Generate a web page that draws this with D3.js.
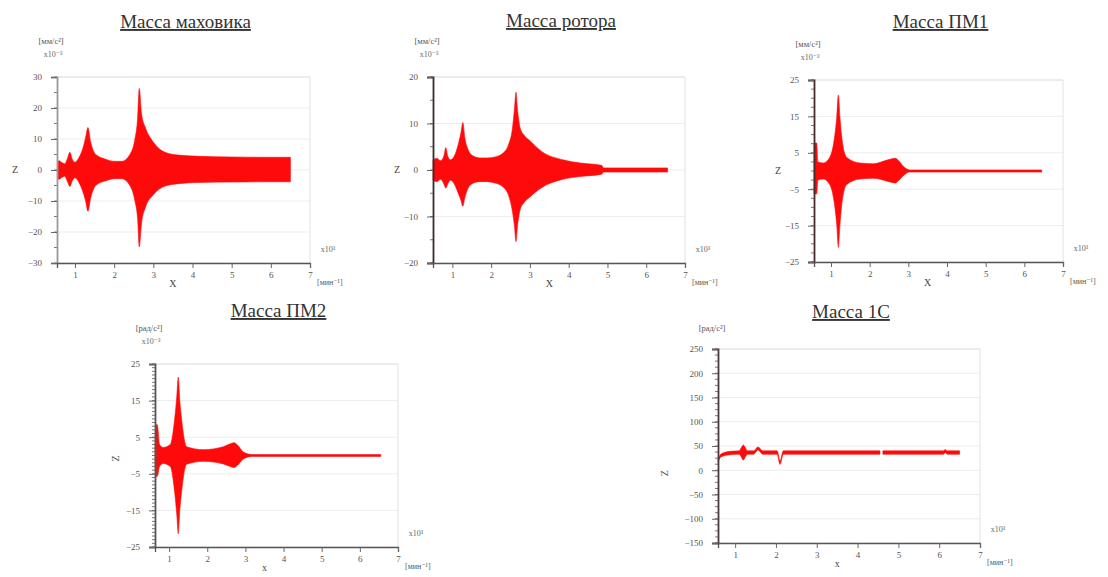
<!DOCTYPE html>
<html>
<head>
<meta charset="utf-8">
<script src="https://cdn.jsdelivr.net/npm/d3@7"></script>
<style>
  body { margin: 0; background: #fff; }
  svg { display: block; }
  text { font-family: "Liberation Serif", "DejaVu Serif", serif; }
</style>
</head>
<body>
<svg id="chart" width="1108" height="577"></svg>
<script>
// envelope of the response (x in 10^3 min^-1)
const flywheelX = [0.55, 0.6, 0.66, 0.74, 0.8, 0.87, 0.93, 1.0, 1.1, 1.2, 1.27, 1.33, 1.4, 1.53, 1.78, 2.0, 2.2, 2.4, 2.53, 2.6, 2.64, 2.7, 2.8, 3.0, 3.3, 3.65, 4.2, 5.0, 5.8, 6.5];
const flywheelUp = [2.8, 3.0, 2.4, 2.0, 3.5, 5.7, 3.5, 2.5, 4.0, 7.0, 10.5, 13.7, 9.0, 5.0, 3.5, 2.8, 2.8, 5.0, 10.0, 17.0, 26.3, 18.0, 13.6, 9.0, 5.7, 4.8, 4.4, 4.2, 4.1, 4.1];
const flywheelLo = [-2.8, -3.0, -2.4, -2.0, -3.5, -5.3, -3.5, -2.5, -4.0, -7.0, -10.0, -13.3, -9.0, -5.0, -3.5, -2.8, -2.8, -5.0, -10.0, -16.0, -24.8, -17.0, -12.0, -8.0, -5.2, -4.4, -4.0, -3.9, -3.8, -3.8];

const rotorX = [0.5, 0.6, 0.7, 0.78, 0.83, 0.88, 0.95, 1.05, 1.15, 1.22, 1.27, 1.32, 1.4, 1.5, 1.7, 1.9, 2.1, 2.3, 2.45, 2.55, 2.6, 2.64, 2.68, 2.75, 2.85, 3.0, 3.3, 3.85, 4.3, 4.85, 4.9, 6.55];
const rotorUp = [2.2, 2.5, 2.0, 3.0, 4.8, 3.0, 2.2, 3.0, 5.5, 8.0, 10.2, 7.0, 4.5, 3.2, 2.6, 2.6, 2.8, 3.6, 5.5, 9.0, 13.0, 16.7, 13.0, 9.0, 7.5, 6.3, 4.0, 2.2, 1.5, 1.0, 0.45, 0.45];
const rotorLo = [-2.2, -2.5, -2.0, -3.0, -3.9, -3.0, -2.2, -3.0, -5.0, -6.5, -7.8, -6.0, -4.0, -3.0, -2.5, -2.5, -2.8, -3.6, -5.5, -9.0, -12.0, -15.4, -12.0, -8.5, -7.0, -5.8, -3.8, -2.0, -1.4, -0.9, -0.45, -0.45];

const pm1X = [0.56, 0.63, 0.66, 0.8, 0.97, 1.1, 1.15, 1.19, 1.23, 1.27, 1.4, 1.75, 2.1, 2.45, 2.6, 2.67, 2.75, 2.9, 3.03, 6.45];
const pm1Up = [7.7, 7.7, 2.5, 2.2, 3.8, 10.0, 15.0, 20.9, 15.0, 10.0, 3.8, 2.2, 2.0, 3.0, 3.4, 3.5, 2.8, 1.0, 0.3, 0.3];
const pm1Lo = [-6.3, -6.3, -2.5, -2.2, -3.8, -10.0, -15.0, -21.0, -15.0, -10.0, -3.8, -2.2, -2.0, -2.8, -3.2, -3.3, -2.6, -1.0, -0.3, -0.3];

const pm2X = [0.63, 0.65, 0.69, 0.75, 0.84, 1.03, 1.15, 1.2, 1.24, 1.28, 1.33, 1.46, 1.9, 2.42, 2.6, 2.7, 2.8, 2.94, 3.17, 6.55];
const pm2Up = [2.0, 8.4, 8.4, 3.0, 2.2, 3.0, 10.5, 16.0, 21.4, 15.0, 9.7, 2.4, 1.6, 2.4, 3.2, 3.5, 2.8, 1.0, 0.25, 0.25];
const pm2Lo = [-2.0, -5.7, -5.7, -3.0, -2.2, -3.0, -10.5, -16.0, -21.4, -15.0, -9.7, -2.4, -1.6, -2.3, -3.0, -3.3, -2.6, -1.0, -0.25, -0.25];

// 1C: null = break in the trace
const oneCX = [0.58, 0.66, 0.88, 1.1, 1.16, 1.2, 1.24, 1.3, 1.45, 1.56, 1.68, 2.03, 2.1, 2.18, 4.55, 4.58, 4.62, 6.1, 6.15, 6.2, 6.5];
const oneCUp = [23, 34, 39, 40, 48, 52, 48, 40, 40, 48, 40, 40, 19, 40, 40, null, 40, 40, 43, 40, 40];
const oneCLo = [17, 28, 32, 33, 26, 21, 26, 33, 33, 42, 33, 33, 12, 33, 33, null, 33, 33, 36, 33, 33];

const titles = ["Масса маховика", "Масса ротора", "Масса ПМ1", "Масса ПМ2", "Масса 1С"];
const yUnits = ["[мм/с²]", "[мм/с²]", "[мм/с²]", "[рад/с²]", "[рад/с²]"];
const xTicks = [1, 2, 3, 4, 5, 6, 7];
const yTicks = [
  [-30, -20, -10, 0, 10, 20, 30],
  [-20, -10, 0, 10, 20],
  [-25, -15, -5, 5, 15, 25],
  [-25, -15, -5, 5, 15, 25],
  [-150, -100, -50, 0, 50, 100, 150, 200, 250]
];

const panels = [
  { x: flywheelX, up: flywheelUp, lo: flywheelLo, l: 57, r: 310, t: 77, b: 263, xd: [0.54, 7], yd: [-30, 30], minor: 5, mult: "x10⁻³", rotZ: false, ty: 28, axis: "#999" },
  { x: rotorX, up: rotorUp, lo: rotorLo, l: 433, r: 685, t: 77, b: 263, xd: [0.5, 7], yd: [-20, 20], minor: 5, mult: "x10⁻³", rotZ: false, ty: 27, axis: "#3a2a2a" },
  { x: pm1X, up: pm1Up, lo: pm1Lo, l: 814, r: 1063, t: 80, b: 262, xd: [0.56, 7], yd: [-25, 25], minor: 2.5, mult: "x10⁻³", rotZ: false, ty: 28, axis: "#4a2a2a" },
  { x: pm2X, up: pm2Up, lo: pm2Lo, l: 155, r: 398, t: 364, b: 547, xd: [0.63, 7], yd: [-25, 25], minor: 1, mult: "x10⁻³", rotZ: true, ty: 317, axis: "#555" },
  { x: oneCX, up: oneCUp, lo: oneCLo, l: 718, r: 980, t: 349, b: 543, xd: [0.58, 7], yd: [-150, 250], minor: 12.5, mult: null, rotZ: true, ty: 318, axis: "#4a3a3a" }
];

const svg = d3.select("#chart");

panels.forEach((p, i) => {
  const x = d3.scaleLinear().domain(p.xd).range([p.l, p.r]);
  const y = d3.scaleLinear().domain(p.yd).range([p.b, p.t]);
  const g = svg.append("g");

  // faint frame and grid, as on the scan
  g.append("g")
    .attr("stroke", "#ededed")
    .selectAll("line")
    .data(yTicks[i])
    .join("line")
    .attr("x1", p.l).attr("x2", p.r)
    .attr("y1", d => y(d)).attr("y2", d => y(d));
  g.append("path")
    .attr("d", `M${p.l},${p.t}H${p.r}V${p.b}`)
    .attr("fill", "none")
    .attr("stroke", "#e2e2e2");

  const pts = p.x.map((v, k) => ({ x: v, up: p.up[k], lo: p.lo[k] }));
  const area = d3.area()
    .defined(d => d.up != null)
    .x(d => x(d.x))
    .y0(d => y(d.lo))
    .y1(d => y(d.up))
    .curve(d3.curveMonotoneX);
  g.append("path")
    .datum(pts)
    .attr("d", area)
    .attr("fill", "#ff0a0a")
    .attr("stroke", "#ff0a0a")
    .attr("stroke-width", 0.6);

  // axes
  const minorTicks = d3.range(p.yd[0], p.yd[1] + 0.001, p.minor);
  g.append("g")
    .attr("stroke", "#777")
    .selectAll("line")
    .data(minorTicks)
    .join("line")
    .attr("x1", p.l - 3).attr("x2", p.l)
    .attr("y1", d => y(d)).attr("y2", d => y(d));

  const ya = g.append("g")
    .attr("transform", `translate(${p.l},0)`)
    .call(d3.axisLeft(y).tickValues(yTicks[i]).tickSize(6).tickPadding(9));
  ya.select(".domain").attr("stroke", p.axis).attr("stroke-width", 1.8);
  ya.selectAll(".tick line").attr("stroke", "#666");
  ya.selectAll(".tick text").attr("font-size", 9).attr("fill", "#555")
    .style("font-family", "Liberation Serif");

  const xa = g.append("g")
    .attr("transform", `translate(0,${p.b})`)
    .call(d3.axisBottom(x).tickValues(xTicks).tickSize(5).tickPadding(4).tickFormat(d3.format("d")));
  xa.select(".domain").attr("stroke", "#555").attr("stroke-width", 1.3);
  xa.selectAll(".tick line").attr("stroke", "#666");
  xa.selectAll(".tick text").attr("font-size", 9).attr("fill", "#555")
    .style("font-family", "Liberation Serif");

  // labels
  g.append("text")
    .attr("x", (p.l + p.r) / 2 + 2)
    .attr("y", p.ty)
    .attr("text-anchor", "middle")
    .attr("font-size", 19)
    .attr("fill", "#333")
    .attr("text-decoration", "underline")
    .text(titles[i]);

  g.append("text")
    .attr("x", p.l - 6).attr("y", p.t - (p.mult ? 33 : 18))
    .attr("text-anchor", "middle")
    .attr("font-size", 8.5).attr("fill", "#555")
    .text(yUnits[i]);
  if (p.mult) {
    g.append("text")
      .attr("x", p.l - 4).attr("y", p.t - 20)
      .attr("text-anchor", "middle")
      .attr("font-size", 8).attr("fill", "#666")
      .text(p.mult);
  }

  const zx = p.l - (i === 0 ? 42 : i === 4 ? 50 : 36);
  g.append("text")
    .attr("transform", `translate(${zx},${y(0) + 3})` + (p.rotZ ? " rotate(-90)" : ""))
    .attr("text-anchor", "middle")
    .attr("font-size", 10).attr("fill", "#444")
    .text("Z");

  g.append("text")
    .attr("x", x(3.5)).attr("y", p.b + 24)
    .attr("text-anchor", "middle")
    .attr("font-size", 10).attr("fill", "#444")
    .text(i >= 3 ? "x" : "X");

  g.append("text")
    .attr("x", p.r + 18).attr("y", p.b - 11)
    .attr("text-anchor", "middle")
    .attr("font-size", 8).attr("fill", "#666")
    .text("x10³");
  g.append("text")
    .attr("x", p.r + 7).attr("y", p.b + 22)
    .attr("font-size", 8).attr("fill", "#555")
    .text("[мин⁻¹]");
});
</script>
</body>
</html>
